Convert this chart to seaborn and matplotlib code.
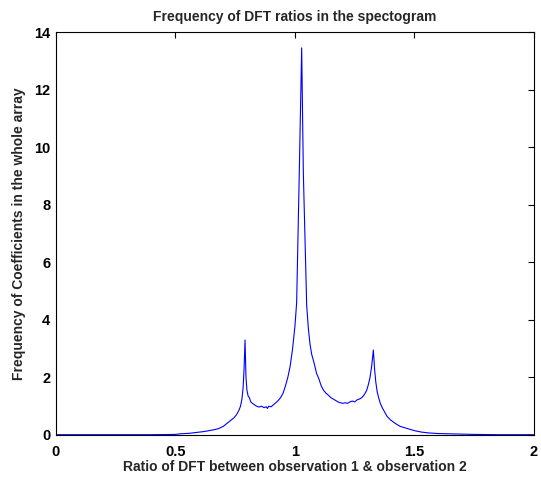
import matplotlib
matplotlib.use("Agg")
import matplotlib.pyplot as plt
import seaborn as sns
import pandas as pd

ratio = [0.0, 0.05, 0.1, 0.15, 0.2, 0.25, 0.3, 0.35, 0.4, 0.45, 0.5, 0.52, 0.54, 0.56, 0.58,
         0.6, 0.62, 0.64, 0.66, 0.68, 0.70, 0.715, 0.73, 0.745, 0.755, 0.765, 0.772, 0.778,
         0.783, 0.787, 0.791, 0.795, 0.799, 0.804, 0.809, 0.815, 0.822, 0.83, 0.84, 0.85,
         0.86, 0.87, 0.88, 0.885, 0.89, 0.9, 0.91, 0.92, 0.93, 0.94, 0.95, 0.96, 0.97, 0.98,
         0.99, 1.0, 1.007, 1.018, 1.028, 1.035, 1.049, 1.056, 1.063, 1.07, 1.08, 1.09, 1.1,
         1.11, 1.12, 1.13, 1.14, 1.15, 1.16, 1.17, 1.18, 1.19, 1.2, 1.21, 1.22, 1.23, 1.24,
         1.25, 1.26, 1.27, 1.28, 1.29, 1.3, 1.307, 1.314, 1.321, 1.328, 1.333, 1.338, 1.344,
         1.35, 1.357, 1.365, 1.375, 1.385, 1.4, 1.42, 1.44, 1.46, 1.48, 1.5, 1.53, 1.56, 1.6,
         1.65, 1.7, 1.75, 1.8, 1.85, 1.9, 1.95, 2.0]
freq = [0.01, 0.01, 0.01, 0.01, 0.01, 0.01, 0.01, 0.01, 0.01, 0.015, 0.02, 0.04, 0.05, 0.06, 0.08,
        0.1, 0.12, 0.15, 0.18, 0.22, 0.3, 0.4, 0.5, 0.6, 0.7, 0.85, 1.0, 1.25,
        1.65, 2.3, 3.3, 2.0, 1.55, 1.35, 1.3, 1.15, 1.1, 1.05, 1.0, 0.97,
        1.0, 0.95, 0.98, 0.92, 1.0, 0.98, 1.05, 1.12, 1.2, 1.3, 1.45, 1.7, 2.0, 2.4,
        3.0, 3.8, 4.6, 9.1, 13.45, 9.1, 4.5, 3.7, 3.15, 2.8, 2.5, 2.15, 1.95,
        1.7, 1.55, 1.45, 1.38, 1.3, 1.25, 1.2, 1.15, 1.12, 1.1, 1.12, 1.1, 1.15, 1.18,
        1.15, 1.22, 1.25, 1.3, 1.4, 1.55, 1.75, 2.0, 2.4, 2.95, 2.3, 1.85, 1.5,
        1.3, 1.1, 0.95, 0.8, 0.65, 0.52, 0.4, 0.3, 0.25, 0.2, 0.15, 0.1, 0.07, 0.05,
        0.04, 0.03, 0.02, 0.015, 0.01, 0.01, 0.01, 0.01]

x_ticks = [0, 0.5, 1, 1.5, 2]
x_tick_labels = ["0", "0.5", "1", "1.5", "2"]
y_ticks = [0, 2, 4, 6, 8, 10, 12, 14]

df = pd.DataFrame({"ratio": ratio, "freq": freq})

sns.set_style("white")
plt.rcParams["font.family"] = ["Liberation Sans", "DejaVu Sans"]

fig = plt.figure(figsize=(5.41, 4.79), dpi=100)
ax = fig.add_axes([0.1035, 0.0919, 0.8835, 0.8411])
sns.lineplot(data=df, x="ratio", y="freq", ax=ax, color="#0000ff", linewidth=0.8,
             estimator=None, sort=False)

ax.set_xlim(0, 2)
ax.set_ylim(0, 14)
ax.set_xticks(x_ticks)
ax.set_xticklabels(x_tick_labels)
ax.set_yticks(y_ticks)
ax.tick_params(direction="in", length=4, width=0.8, top=True, right=True,
               labelsize=10.5, colors="black")
ax.tick_params(axis="x", pad=7)
ax.tick_params(axis="y", pad=4)
for lab in ax.get_xticklabels() + ax.get_yticklabels():
    lab.set_fontweight("bold")
for s in ax.spines.values():
    s.set_color("black")
    s.set_linewidth(0.8)

ax.set_title("Frequency of DFT ratios in the spectogram", fontsize=10, fontweight="bold", pad=8)
ax.set_xlabel("Ratio of DFT between observation 1 & observation 2", fontsize=10,
              fontweight="bold", labelpad=1)
ax.set_ylabel("Frequency of Coefficients in the whole array", fontsize=10,
              fontweight="bold", labelpad=6)

fig.savefig("out.png", dpi=100)
